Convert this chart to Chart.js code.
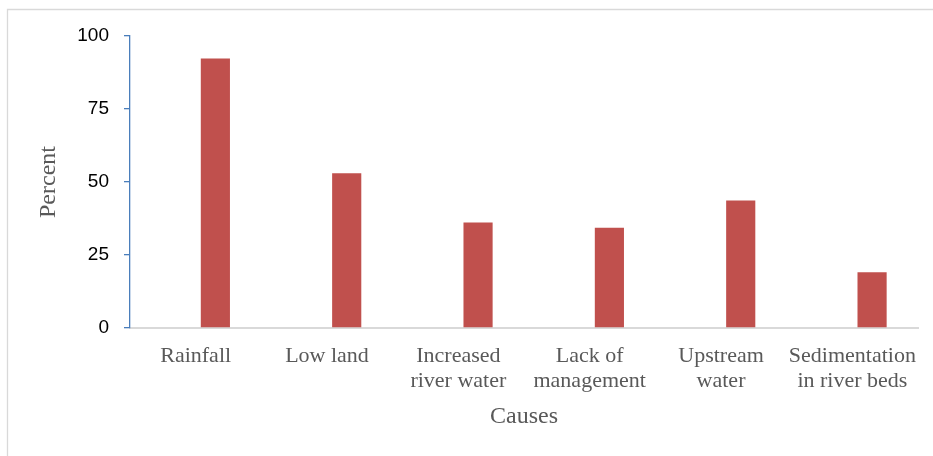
<!DOCTYPE html>
<html>
<head>
<meta charset="utf-8">
<script src="https://cdn.jsdelivr.net/npm/chart.js@4/dist/chart.umd.min.js"></script>
<style>
  html, body { margin: 0; padding: 0; background: #ffffff; overflow: hidden; }
  #wrap { position: relative; width: 933px; height: 456px; }
</style>
</head>
<body>
<div id="wrap"><canvas id="chart" width="933" height="456"></canvas></div>
<script>
// Causes of flooding, share of respondents (%)
const causes = [
  'Rainfall',
  'Low land',
  ['Increased', 'river water'],
  ['Lack of', 'management'],
  ['Upstream', 'water'],
  ['Sedimentation', 'in river beds']
];
const percentValues = [92.3, 53.0, 36.1, 34.3, 43.7, 19.1];
// first series of the workbook is empty; it only reserves the left slot of each group
const emptySeries = [null, null, null, null, null, null];
const percentTicks = [0, 25, 50, 75, 100];

// light frame along the top and left edges of the figure
const framePlugin = {
  id: 'frame',
  beforeDraw(chart) {
    const ctx = chart.ctx;
    ctx.save();
    ctx.strokeStyle = '#d9d9d9';
    ctx.lineWidth = 1.3;
    ctx.beginPath();
    ctx.moveTo(7.5, chart.height);
    ctx.lineTo(7.5, 9.5);
    ctx.lineTo(chart.width, 9.5);
    ctx.stroke();
    ctx.restore();
  }
};

new Chart(document.getElementById('chart'), {
  type: 'bar',
  data: {
    labels: causes,
    datasets: [
      { label: '', data: emptySeries, backgroundColor: '#4f81bd' },
      { label: 'Percent', data: percentValues, backgroundColor: '#c0504d' }
    ]
  },
  options: {
    responsive: false,
    animation: false,
    devicePixelRatio: 1,
    categoryPercentage: 0.6,
    barPercentage: 0.74,
    layout: { padding: { left: 0, right: 13, top: 36, bottom: 0 } },
    plugins: {
      legend: { display: false },
      tooltip: { enabled: false }
    },
    scales: {
      x: {
        afterFit(scale) { scale.height = 128; },
        grid: { display: true, drawOnChartArea: false, drawTicks: false },
        border: { display: true, color: '#d9d9d9', width: 2 },
        ticks: {
          color: '#595959',
          padding: 16,
          maxRotation: 0,
          autoSkip: false,
          font: { family: '"Liberation Serif", "Times New Roman", serif', size: 22, lineHeight: '25px' }
        },
        title: {
          display: true,
          text: 'Causes',
          color: '#595959',
          padding: { top: 4, bottom: 25 },
          font: { family: '"Liberation Serif", "Times New Roman", serif', size: 24 }
        }
      },
      y: {
        min: 0,
        max: 100,
        afterFit(scale) { scale.width = 130; },
        afterBuildTicks(scale) { scale.ticks = percentTicks.map(v => ({ value: v })); },
        grid: { drawOnChartArea: false, drawTicks: true, tickLength: 6, color: '#4a7ebb', lineWidth: 1.3 },
        border: { display: true, color: '#4a7ebb', width: 1.3 },
        ticks: {
          color: '#000000',
          padding: 15,
          font: { family: '"Liberation Sans", Arial, sans-serif', size: 19 }
        },
        title: {
          display: true,
          text: 'Percent',
          color: '#595959',
          padding: { top: 34, bottom: 0 },
          font: { family: '"Liberation Serif", "Times New Roman", serif', size: 24 }
        }
      }
    }
  },
  plugins: [framePlugin]
});
</script>
</body>
</html>
